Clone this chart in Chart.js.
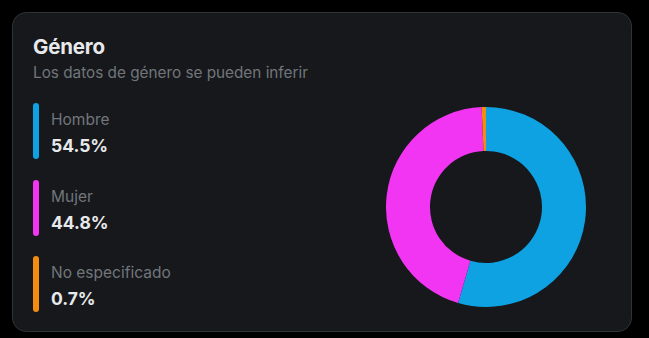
<!DOCTYPE html>
<html><head><meta charset="utf-8">
<script src="https://cdn.jsdelivr.net/npm/chart.js@4"></script>
<style>
html,body{margin:0;padding:0;background:#000;width:649px;height:338px;overflow:hidden;font-family:Inter,"Noto Sans",sans-serif;}
#card{position:absolute;left:12px;top:12px;width:620px;height:320px;background:#17181c;border:1px solid #2f3336;border-radius:14px;box-sizing:border-box;}
#title{position:absolute;left:20px;top:21px;color:#e7e9ea;font-size:20.5px;font-weight:700;letter-spacing:-0.2px;}
#sub{position:absolute;left:20px;top:50px;color:#71767b;font-size:15.3px;}
.item{position:absolute;left:20px;height:56px;}
.bar{position:absolute;left:0;top:0;width:6px;height:56px;border-radius:3px;}
.lab{position:absolute;left:18px;top:7px;color:#71767b;font-size:15.5px;white-space:nowrap;}
.val{position:absolute;left:18px;top:32px;color:#e7e9ea;font-size:17.5px;font-weight:700;white-space:nowrap;}
#cw{position:absolute;left:373px;top:94px;width:200px;height:200px;}
</style></head>
<body>
<div id="card">
<div id="title">Género</div>
<div id="sub">Los datos de género se pueden inferir</div>
<div id="legend"></div>
<div id="cw"><canvas id="c"></canvas></div>
</div>
<script>
const categories = ["Hombre", "Mujer", "No especificado"];
const values = [54.5, 44.8, 0.7];
const valueLabels = ["54.5%", "44.8%", "0.7%"];
const colors = ["#0ea2e3", "#f135f2", "#f48c0f"];

const legend = document.getElementById('legend');
const tops = [90, 167, 243];
categories.forEach((c, i) => {
  const d = document.createElement('div');
  d.className = 'item';
  d.style.top = tops[i] + 'px';
  d.innerHTML = '<div class="bar" style="background:' + colors[i] + '"></div><div class="lab">' + c + '</div><div class="val">' + valueLabels[i] + '</div>';
  legend.appendChild(d);
});

new Chart(document.getElementById('c'), {
  type: 'doughnut',
  data: { labels: categories, datasets: [{ data: values, backgroundColor: colors, borderWidth: 0 }] },
  options: {
    responsive: true, maintainAspectRatio: false, animation: false,
    cutout: '56%',
    layout: { padding: 0 },
    plugins: { legend: { display: false }, tooltip: { enabled: false } }
  }
});
</script>
</body></html>
